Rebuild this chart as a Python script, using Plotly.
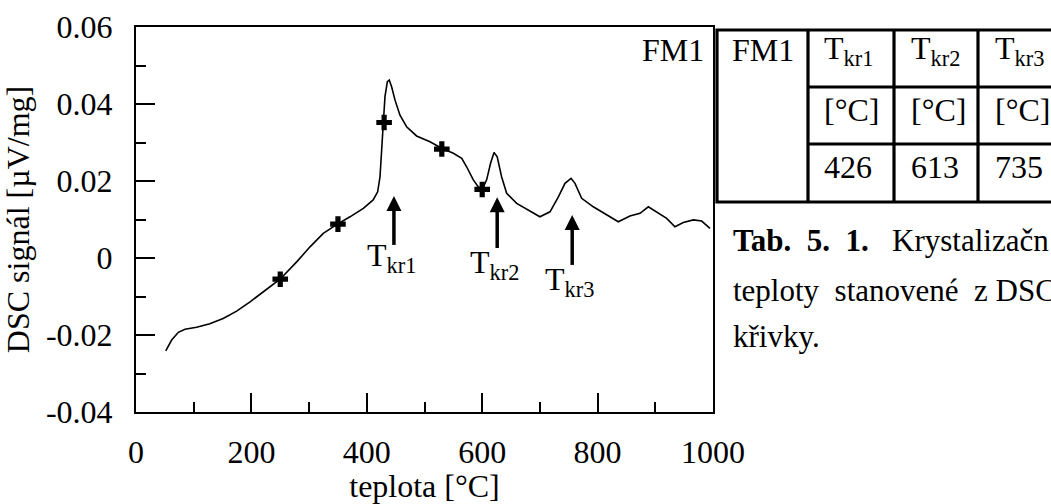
import plotly.graph_objects as go

# ---------------- data ----------------
temp = [51.5, 61.8, 73.4, 85, 105, 128, 151, 174.5, 197.6, 220.7, 249.6, 278.5,
        301.6, 324.6, 349, 370.9, 394, 411, 418.8, 422.9, 425.8, 428.6, 431.5,
        435.6, 439, 443, 448.9, 457.5, 469, 486.3, 509.5, 529.8, 550, 564.5, 573,
        584.6, 593, 600, 607.7, 614.5, 620.5, 626, 633.6, 642.4, 659.8, 682.8,
        700, 717.5, 732, 743.5, 754, 760.8, 772.4, 792.5, 815.7, 835.9, 856,
        873.5, 887.9, 902.4, 919.7, 934, 948.5, 966, 980.4, 994.8]
dsc = [-0.0241, -0.0213, -0.0193, -0.0185, -0.0180, -0.0171, -0.0157, -0.0138,
       -0.0114, -0.0087, -0.0055, -0.0010, 0.0029, 0.0064, 0.0088, 0.0107,
       0.0129, 0.0151, 0.0172, 0.0211, 0.0272, 0.0350, 0.0419, 0.0458, 0.0462,
       0.0445, 0.0410, 0.0371, 0.0341, 0.0317, 0.0302, 0.0285, 0.0272, 0.0259,
       0.0237, 0.0203, 0.0185, 0.0178, 0.0203, 0.0246, 0.0274, 0.0263, 0.0211,
       0.0168, 0.0142, 0.0123, 0.0107, 0.0120, 0.0159, 0.0194, 0.0207, 0.0194,
       0.0155, 0.0133, 0.0112, 0.0094, 0.0109, 0.0116, 0.0133, 0.0120, 0.0103,
       0.0081, 0.0092, 0.0099, 0.0096, 0.0077]

marker_temp = [250, 350, 430, 530, 600]
marker_dsc = [-0.0055, 0.0088, 0.0352, 0.0283, 0.0178]

arrow_x = [447, 626, 756]
arrow_tip = [0.0161, 0.0158, 0.0112]
arrow_tail = [0.0034, 0.0026, -0.0018]
arrow_labels = ["T<sub>kr1</sub>", "T<sub>kr2</sub>", "T<sub>kr3</sub>"]
label_x = [442, 622, 752]
label_y = [0.0002, -0.0016, -0.0062]

x_tickvals = [0, 200, 400, 600, 800, 1000]
x_ticktext = ["0", "200", "400", "600", "800", "1000"]
y_tickvals = [0.06, 0.04, 0.02, 0, -0.02, -0.04]
y_ticktext = ["0.06", "0.04", "0.02", "0", "-0.02", "-0.04"]

table_header = ["T<sub>kr1</sub>", "T<sub>kr2</sub>", "T<sub>kr3</sub>"]
table_units = ["[°C]", "[°C]", "[°C]"]
table_values = ["426", "613", "735"]
sample_name = "FM1"

caption_lines = ["<b>Tab.\u00a0 5.\u00a0 1.</b>\u00a0\u00a0 Krystalizačn",
                 "teploty\u00a0 stanovené\u00a0 z\u00a0DSC",
                 "křivky."]

# ---------------- layout geometry (pixels) ----------------
W, H = 1051, 504
L, R, T, B = 136, 713, 27, 412
FONT = "Liberation Serif"
FS = 32
FS_CAP = 31
Y_PER_PX = 0.1 / (B - T)


def px(xp):
    return (xp - L) / (R - L)


def py(yp):
    return (B - yp) / (B - T)


fig = go.Figure()
fig.add_trace(go.Scatter(x=temp, y=dsc, mode="lines",
                         line=dict(color="black", width=1.6),
                         showlegend=False, hoverinfo="skip"))
fig.add_trace(go.Scatter(x=marker_temp, y=marker_dsc, mode="markers",
                         marker=dict(symbol="cross", size=13, color="black"),
                         showlegend=False, hoverinfo="skip"))

# arrows: shaft lines + arrow heads (arrow-up marker tip sits at the point)
shaft_x, shaft_y = [], []
for xa, tip, tail in zip(arrow_x, arrow_tip, arrow_tail):
    shaft_x += [xa, xa, None]
    shaft_y += [tail, tip - 10 * Y_PER_PX, None]
fig.add_trace(go.Scatter(x=shaft_x, y=shaft_y, mode="lines",
                         line=dict(color="black", width=3.5),
                         showlegend=False, hoverinfo="skip"))
fig.add_trace(go.Scatter(x=arrow_x, y=arrow_tip, mode="markers",
                         marker=dict(symbol="arrow-up", size=15, color="black",
                                     line=dict(width=0)),
                         showlegend=False, hoverinfo="skip"))

annotations = []
for lx, ly, lt in zip(label_x, label_y, arrow_labels):
    annotations.append(dict(x=lx, y=ly, xref="x", yref="y", text=lt,
                            showarrow=False, xanchor="center", yanchor="middle",
                            font=dict(family=FONT, size=FS, color="black")))

# FM1 label inside plot
annotations.append(dict(x=px(706), y=py(50), xref="paper", yref="paper",
                        text=sample_name, showarrow=False, xanchor="right",
                        yanchor="middle",
                        font=dict(family=FONT, size=FS, color="black")))

# ---------------- table ----------------
tbl_left, tbl_top, tbl_bottom = 717, 30, 202
col_x = [808, 894, 978]
row_y = [87, 144]
tbl_right = 1090
shapes = []
lw = 3.2
shapes.append(dict(type="rect", xref="paper", yref="paper",
                   x0=px(tbl_left), x1=px(tbl_right), y0=py(tbl_bottom), y1=py(tbl_top),
                   line=dict(color="black", width=lw), layer="above"))
for cx in col_x:
    shapes.append(dict(type="line", xref="paper", yref="paper",
                       x0=px(cx), x1=px(cx), y0=py(tbl_bottom), y1=py(tbl_top),
                       line=dict(color="black", width=lw)))
for ry in row_y:
    shapes.append(dict(type="line", xref="paper", yref="paper",
                       x0=px(col_x[0]), x1=px(tbl_right), y0=py(ry), y1=py(ry),
                       line=dict(color="black", width=lw)))

annotations.append(dict(x=px(730), y=py(50), xref="paper", yref="paper",
                        text=sample_name, showarrow=False, xanchor="left",
                        yanchor="middle",
                        font=dict(family=FONT, size=FS, color="black")))
text_x = [822, 909, 993]
row_centers = [50, 110, 167]
for i in range(3):
    for rc, txt in zip(row_centers, [table_header[i], table_units[i], table_values[i]]):
        annotations.append(dict(x=px(text_x[i]), y=py(rc), xref="paper", yref="paper",
                                text=txt, showarrow=False, xanchor="left",
                                yanchor="middle",
                                font=dict(family=FONT, size=FS, color="black")))

caption_y = [240, 290, 336]
for cy, ct in zip(caption_y, caption_lines):
    annotations.append(dict(x=px(731), y=py(cy), xref="paper", yref="paper",
                            text=ct, showarrow=False, xanchor="left",
                            yanchor="middle",
                            font=dict(family=FONT, size=FS_CAP, color="black")))

fig.update_layout(
    width=W, height=H,
    margin=dict(l=L, r=W - R, t=T, b=H - B, autoexpand=False),
    paper_bgcolor="white", plot_bgcolor="white",
    font=dict(family=FONT, size=FS, color="black"),
    annotations=annotations, shapes=shapes,
    showlegend=False,
)
fig.update_xaxes(range=[0, 1000], tickvals=x_tickvals, ticktext=x_ticktext,
                 ticks="inside", ticklen=19, tickwidth=2, tickcolor="black",
                 minor=dict(dtick=100, tick0=0, ticks="inside", ticklen=10,
                            tickwidth=2, tickcolor="black", showgrid=False),
                 showline=True, linecolor="black", linewidth=2, mirror=True,
                 showgrid=False, zeroline=False, ticklabelstandoff=11,
                 tickfont=dict(family=FONT, size=FS, color="black"),
                 title=dict(text="teplota [°C]", standoff=6,
                            font=dict(family=FONT, size=FS, color="black")))
fig.update_yaxes(range=[-0.04, 0.06], tickvals=y_tickvals, ticktext=y_ticktext,
                 ticks="inside", ticklen=19, tickwidth=2, tickcolor="black",
                 minor=dict(dtick=0.01, tick0=0, ticks="inside", ticklen=10,
                            tickwidth=2, tickcolor="black", showgrid=False),
                 showline=True, linecolor="black", linewidth=2, mirror=True,
                 showgrid=False, zeroline=False, ticklabelstandoff=15,
                 tickfont=dict(family=FONT, size=FS, color="black"),
                 title=dict(text="DSC signál [µV/mg]", standoff=8,
                            font=dict(family=FONT, size=FS, color="black")))

fig.write_html("out.html")
